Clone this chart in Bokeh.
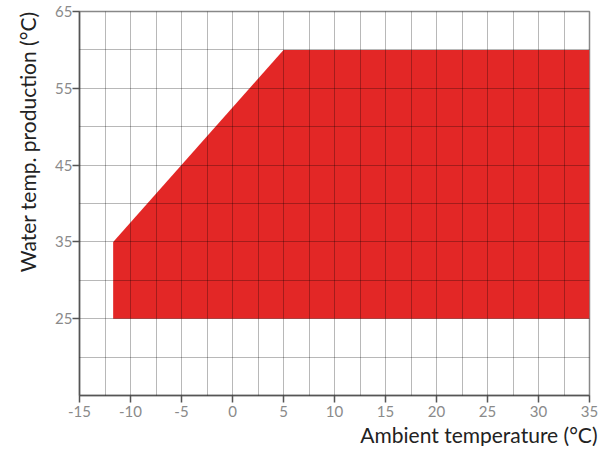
from bokeh.plotting import figure
from bokeh.models import FixedTicker, SingleIntervalTicker, Title
from bokeh.embed import file_html
from bokeh.resources import INLINE

# Operating envelope (ambient temperature vs water production temperature)
envelope_x = [-11.7, -11.7, 5, 35, 35]
envelope_y = [25, 35, 60, 60, 25]

x_ticks = [-15, -10, -5, 0, 5, 10, 15, 20, 25, 30, 35]
y_ticks = [25, 35, 45, 55, 65]

x_title = "Ambient temperature (°C)"
y_title = "Water temp. production (°C)"

p = figure(width=598, height=446, x_range=(-15, 35), y_range=(15, 65),
           output_backend="svg", toolbar_location=None,
           min_border_left=79, min_border_right=9, min_border_top=11,
           min_border_bottom=49)

p.patch(envelope_x, envelope_y, fill_color="#e32726", line_color=None)

p.xaxis.ticker = FixedTicker(ticks=x_ticks)
p.yaxis.ticker = FixedTicker(ticks=y_ticks)
p.xaxis.major_label_overrides = {t: str(t) for t in x_ticks}
p.yaxis.major_label_overrides = {t: str(t) for t in y_ticks}
p.xgrid.ticker = SingleIntervalTicker(interval=2.5)
p.ygrid.ticker = SingleIntervalTicker(interval=5)
for g in (p.xgrid, p.ygrid):
    g.level = "overlay"
    g.grid_line_color = "black"
    g.grid_line_alpha = 0.28
    g.grid_line_width = 1

p.outline_line_color = "#888888"
p.outline_line_width = 1.5

for ax in (p.xaxis, p.yaxis):
    ax.axis_line_color = "#555555"
    ax.axis_line_width = 1.5
    ax.major_tick_line_color = "#555555"
    ax.major_tick_line_width = 1.5
    ax.major_tick_out = 7
    ax.major_tick_in = 0
    ax.minor_tick_line_color = None
    ax.major_label_text_color = "#8a8a8a"
    ax.major_label_text_font = "Lato"
    ax.major_label_text_font_size = "15px"

p.xaxis.major_label_standoff = 3
p.yaxis.major_label_standoff = 0

tx = Title(text=x_title, align="right", text_font="Lato",
           text_font_size="21px", text_font_style="normal",
           text_color="#222222", standoff=0, offset=-8)
p.add_layout(tx, "below")
ty = Title(text=y_title, align="right", text_font="Lato",
           text_font_size="21px", text_font_style="normal",
           text_color="#222222", standoff=25)
p.add_layout(ty, "left")

open("out.html", "w").write(file_html(p, INLINE))
